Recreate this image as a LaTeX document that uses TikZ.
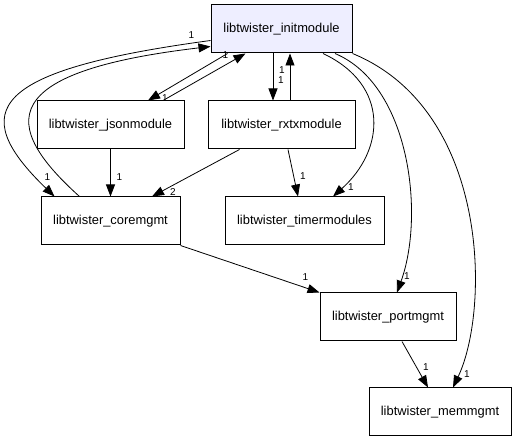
\documentclass[tikz,border=0pt]{standalone}
\usepackage{fontspec}
\setmainfont{Liberation Sans}
\usetikzlibrary{arrows.meta}
\definecolor{initfill}{HTML}{EEEEFF}
\begin{document}
\begin{tikzpicture}[x=1pt,y=-1pt]
\tikzstyle{every node}=[font=\fontsize{12.9}{15}\selectfont]
\tikzstyle{module}=[draw, line width=1pt, minimum height=48pt, inner sep=0pt]
\tikzstyle{dep}=[line width=0.8pt, -{Triangle[length=12pt,width=9pt]}]
\tikzstyle{mult}=[font=\fontsize{10}{12}\selectfont, inner sep=0pt]

% fix the page size
\useasboundingbox (0,0) rectangle (517,443);

% modules
\node[module, fill=initfill, minimum width=141pt] (init) at (281.5,29) {libtwister\_initmodule};
\node[module, minimum width=147pt] (json) at (110.5,125) {libtwister\_jsonmodule};
\node[module, minimum width=147pt] (rxtx) at (281.5,125) {libtwister\_rxtxmodule};
\node[module, minimum width=139pt] (core) at (110.5,221) {libtwister\_coremgmt};
\node[module, minimum width=159pt] (timer) at (304.5,221) {libtwister\_timermodules};
\node[module, minimum width=136pt] (port) at (388,317) {libtwister\_portmgmt};
\node[module, minimum width=142pt] (mem) at (440,412) {libtwister\_memmgmt};

% init <-> json
\draw[dep] ([xshift=17]init.south west) -- ([xshift=37.5]json.north) node[mult, shift={(17,-2)}] {1};
\draw[dep] ([xshift=52.5]json.north) -- ([xshift=35]init.south west) node[mult, shift={(-20,2)}] {1};

% init <-> rxtx
\draw[dep] ([xshift=-8.5]init.south) -- ([xshift=-8.5]rxtx.north) node[mult, shift={(8,-20)}] {1};
\draw[dep] ([xshift=8.5]rxtx.north) -- ([xshift=8.5]init.south) node[mult, shift={(-8,17)}] {1};

% init <-> core, round the left side
\draw[dep] ([yshift=13]init.south west) .. controls (-8,70) and (-35,110) .. ([xshift=14]core.north west) node[mult, shift={(-7,-19)}] {1};
\draw[dep] ([xshift=39]core.north west) .. controls (0,125) and (-4,71.8) .. ([yshift=7]init.south west) node[mult, shift={(-19,-11)}] {1};

% json, rxtx down to core and timer
\draw[dep] (json.south) -- (core.north) node[mult, shift={(9,-19)}] {1};
\draw[dep] ([xshift=32]rxtx.south west) -- ([xshift=41.5]core.north) node[mult, shift={(21,-4)}] {2};
\draw[dep] ([xshift=6.5]rxtx.south) -- ([xshift=-6.5]timer.north) node[mult, shift={(5,-20)}] {1};

% init round the right side
\draw[dep] ([xshift=41.5]init.south) .. controls (390,85) and (385,150) .. ([xshift=28.5]timer.north) node[mult, shift={(18,-9)}] {1};
\draw[dep] ([xshift=53.5]init.south) .. controls (410,85) and (425,215) .. ([xshift=9]port.north) node[mult, shift={(10,-16)}] {1};
\draw[dep] (init.south east) .. controls (490,110) and (490,310) .. ([xshift=13]mem.north) node[mult, shift={(14,-13)}] {1};

% lower edges
\draw[dep] (core.south east) -- (port.north west) node[mult, shift={(-14,-15)}] {1};
\draw[dep] ([xshift=14]port.south) -- ([xshift=-12]mem.north) node[mult, shift={(-2,-20)}] {1};

\end{tikzpicture}
\end{document}
